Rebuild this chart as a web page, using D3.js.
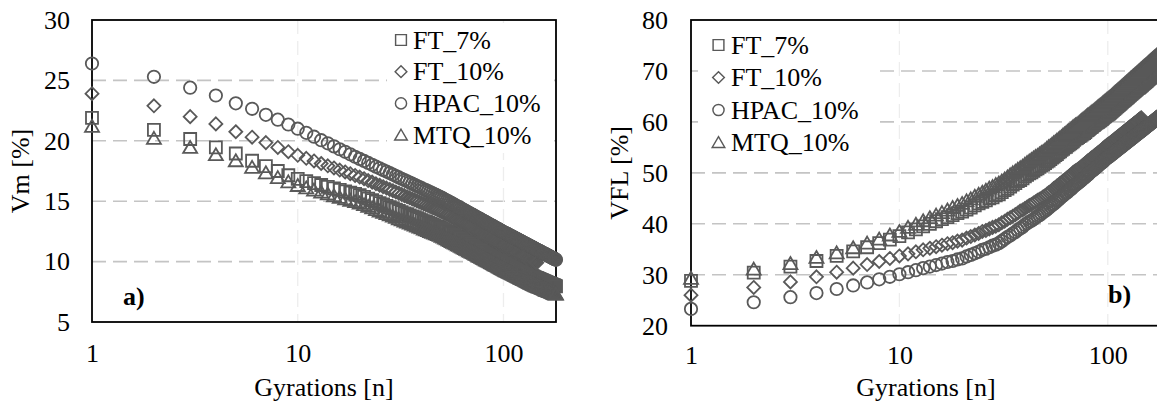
<!DOCTYPE html>
<html><head><meta charset="utf-8">
<script src="https://cdn.jsdelivr.net/npm/d3@7"></script>
<style>
body{margin:0;background:#fff}
svg{display:block}
</style>
</head><body>
<svg id="c" width="1157" height="403"></svg>
<script>
const seriesNames = ["FT_7%","FT_10%","HPAC_10%","MTQ_10%"];
const seriesSymbols = ["square","diamond","circle","triangle"];
const xTicks = [1,10,100];
const vmTicks = [5,10,15,20,25,30];
const vflTicks = [20,30,40,50,60,70,80];
const xTitle = "Gyrations [n]";

// Vm [%] per gyration (index 0 = gyration 1)
const vmFT7 = [21.9,20.9,20.15,19.45,18.95,18.35,17.9,17.5,17.15,16.85,
16.67,16.5,16.34,16.19,16.06,15.93,15.82,15.71,15.6,15.5,
15.36,15.22,15.09,14.96,14.84,14.73,14.62,14.51,14.41,14.31,
14.19,14.1,14.0,13.92,13.83,13.75,13.67,13.59,13.51,13.44,
13.34,13.28,13.21,13.14,13.07,13.01,12.94,12.88,12.82,12.75,
12.68,12.6,12.53,12.46,12.39,12.31,12.25,12.18,12.11,12.04,
11.99,11.92,11.86,11.79,11.73,11.66,11.62,11.55,11.5,11.44,
11.39,11.33,11.28,11.22,11.17,11.11,11.07,11.01,10.96,10.9,
10.86,10.8,10.76,10.71,10.67,10.62,10.57,10.52,10.48,10.43,
10.39,10.34,10.31,10.25,10.21,10.17,10.13,10.08,10.04,10.0,
9.97,9.93,9.89,9.86,9.83,9.79,9.76,9.72,9.69,9.65,
9.62,9.59,9.55,9.52,9.49,9.45,9.42,9.39,9.36,9.33,
9.29,9.27,9.24,9.21,9.17,9.15,9.12,9.09,9.05,9.03,
8.99,8.97,8.94,8.92,8.88,8.86,8.83,8.8,8.77,8.75,
8.72,8.7,8.68,8.65,8.64,8.62,8.59,8.57,8.55,8.53,
8.51,8.49,8.47,8.45,8.42,8.41,8.39,8.37,8.35,8.32,
8.3,8.28,8.26,8.24,8.23,8.21,8.19,8.17,8.16,8.14,
8.12,8.1,8.08,8.06,8.04,8.02,8.0,7.98,7.97,7.95];

const vmFT10 = [23.9,22.9,22.0,21.4,20.75,20.3,19.85,19.45,19.1,18.8,
18.55,18.33,18.12,17.93,17.75,17.58,17.42,17.28,17.13,17.0,
16.86,16.71,16.58,16.44,16.32,16.2,16.09,15.97,15.87,15.76,
15.66,15.56,15.46,15.37,15.28,15.19,15.11,15.02,14.94,14.86,
14.78,14.71,14.64,14.56,14.49,14.42,14.35,14.28,14.22,14.15,
14.07,13.99,13.92,13.85,13.77,13.7,13.63,13.56,13.48,13.42,
13.36,13.29,13.23,13.16,13.1,13.02,12.96,12.9,12.85,12.79,
12.74,12.68,12.61,12.55,12.5,12.44,12.39,12.34,12.29,12.24,
12.19,12.13,12.08,12.04,11.98,11.94,11.88,11.84,11.8,11.75,
11.7,11.65,11.61,11.56,11.51,11.48,11.42,11.39,11.34,11.3,
11.27,11.23,11.19,11.15,11.12,11.08,11.05,11.02,10.97,10.94,
10.9,10.87,10.83,10.8,10.77,10.74,10.71,10.67,10.64,10.6,
10.57,10.54,10.51,10.48,10.45,10.43,10.39,10.36,10.33,10.31,
10.27,10.25,10.22,10.19,10.17,10.14,10.12,10.08,10.06,10.03,
10.01,9.98,9.96,9.92,9.9];

const vmHPAC = [26.4,25.3,24.4,23.75,23.1,22.65,22.15,21.75,21.35,21.0,
20.66,20.34,20.05,19.79,19.54,19.3,19.09,18.88,18.68,18.5,
18.33,18.17,18.01,17.86,17.72,17.58,17.45,17.33,17.21,17.08,
16.97,16.86,16.75,16.65,16.55,16.45,16.35,16.26,16.17,16.08,
15.99,15.91,15.83,15.75,15.67,15.59,15.52,15.44,15.37,15.3,
15.21,15.14,15.06,14.99,14.91,14.84,14.76,14.69,14.62,14.55,
14.49,14.42,14.35,14.29,14.22,14.15,14.1,14.03,13.97,13.92,
13.86,13.8,13.75,13.69,13.63,13.58,13.53,13.47,13.42,13.37,
13.32,13.26,13.22,13.17,13.12,13.07,13.02,12.98,12.93,12.89,
12.84,12.79,12.75,12.71,12.66,12.62,12.57,12.54,12.49,12.45,
12.41,12.38,12.34,12.3,12.27,12.23,12.19,12.15,12.12,12.08,
12.05,12.01,11.98,11.94,11.91,11.88,11.84,11.81,11.77,11.74,
11.71,11.68,11.65,11.61,11.58,11.55,11.52,11.49,11.46,11.42,
11.39,11.37,11.34,11.31,11.28,11.25,11.22,11.19,11.16,11.13,
11.11,11.08,11.05,11.02,11.0,10.97,10.94,10.92,10.89,10.86,
10.84,10.81,10.79,10.76,10.74,10.71,10.69,10.66,10.64,10.61,
10.59,10.57,10.54,10.52,10.5,10.47,10.45,10.42,10.4,10.38,
10.36,10.33,10.31,10.29,10.27,10.24,10.22,10.2,10.18,10.15];

const vmMTQ = [21.2,20.2,19.45,18.85,18.35,17.8,17.35,16.95,16.6,16.3,
16.1,15.92,15.75,15.6,15.45,15.32,15.19,15.07,14.96,14.85,
14.71,14.57,14.44,14.31,14.19,14.08,13.97,13.86,13.76,13.66,
13.54,13.45,13.35,13.27,13.18,13.1,13.02,12.94,12.86,12.79,
12.69,12.63,12.56,12.49,12.42,12.36,12.29,12.23,12.17,12.1,
12.03,11.95,11.88,11.81,11.74,11.66,11.6,11.53,11.46,11.39,
11.34,11.27,11.21,11.14,11.08,11.01,10.97,10.9,10.85,10.79,
10.74,10.68,10.63,10.57,10.52,10.46,10.42,10.36,10.31,10.25,
10.21,10.15,10.11,10.06,10.02,9.97,9.92,9.87,9.83,9.78,
9.74,9.69,9.66,9.6,9.56,9.52,9.48,9.43,9.39,9.35,
9.32,9.28,9.24,9.21,9.18,9.14,9.11,9.07,9.04,9.0,
8.97,8.94,8.9,8.87,8.84,8.8,8.77,8.74,8.71,8.68,
8.64,8.62,8.59,8.56,8.52,8.5,8.47,8.44,8.4,8.38,
8.34,8.32,8.29,8.27,8.23,8.21,8.18,8.15,8.12,8.1,
8.07,8.05,8.03,8.0,7.99,7.97,7.94,7.92,7.9,7.88,
7.86,7.84,7.82,7.8,7.77,7.76,7.74,7.72,7.7,7.67,
7.65,7.63,7.61,7.59,7.58,7.56,7.54,7.52,7.51,7.49,
7.47,7.45,7.43,7.41,7.39,7.37,7.35,7.33,7.32,7.3];

// VFL [%] per gyration
const vflFT7 = [28.8,30.4,31.6,32.7,33.7,34.6,35.4,36.2,36.9,37.6,
38.3,38.9,39.5,40.0,40.5,40.9,41.3,41.7,42.1,42.4,
42.8,43.2,43.6,44.0,44.3,44.6,45.0,45.2,45.6,45.8,
46.2,46.6,46.9,47.3,47.7,48.0,48.4,48.6,48.9,49.3,
49.6,49.9,50.1,50.4,50.7,50.9,51.2,51.4,51.6,51.9,
52.2,52.4,52.7,53.0,53.2,53.5,53.7,54.0,54.2,54.5,
54.7,55.0,55.1,55.4,55.6,55.8,56.0,56.2,56.5,56.7,
56.8,57.0,57.2,57.3,57.5,57.7,57.8,58.0,58.3,58.4,
58.6,58.8,59.0,59.1,59.3,59.4,59.6,59.8,59.9,60.0,
60.2,60.3,60.5,60.6,60.8,61.0,61.1,61.3,61.4,61.5,
61.6,61.75,61.9,62.05,62.2,62.35,62.5,62.65,62.8,62.95,
63.09,63.23,63.37,63.51,63.65,63.78,63.92,64.06,64.2,64.34,
64.42,64.55,64.67,64.8,64.93,65.06,65.19,65.32,65.44,65.56,
65.68,65.8,65.91,66.03,66.15,66.26,66.38,66.5,66.61,66.73,
66.74,66.85,66.96,67.07,67.18,67.29,67.4,67.51,67.62,67.73,
67.83,67.93,68.03,68.13,68.23,68.34,68.44,68.54,68.64,68.75,
68.76,68.86,68.95,69.05,69.14,69.24,69.33,69.43,69.52,69.62,
69.71,69.8,69.89,69.98,70.07,70.16,70.25,70.34,70.43,70.52];

const vflFT10 = [26.0,27.5,28.6,29.6,30.5,31.3,32.0,32.6,33.2,33.7,
34.1,34.5,34.9,35.2,35.5,35.8,36.1,36.3,36.6,36.8,
37.2,37.5,37.8,38.1,38.5,38.7,39.0,39.3,39.5,39.8,
40.2,40.5,40.9,41.2,41.5,41.8,42.1,42.5,42.7,43.0,
43.3,43.6,43.8,44.1,44.3,44.6,44.8,45.0,45.3,45.5,
45.8,46.1,46.3,46.6,46.9,47.1,47.4,47.6,47.9,48.1,
48.4,48.6,48.8,49.1,49.3,49.5,49.7,50.0,50.2,50.4,
50.5,50.7,50.9,51.1,51.3,51.5,51.7,51.9,52.1,52.3,
52.4,52.6,52.8,53.0,53.1,53.3,53.5,53.6,53.8,54.0,
54.1,54.3,54.4,54.6,54.8,54.9,55.1,55.2,55.4,55.5,
55.64,55.77,55.91,56.04,56.18,56.31,56.45,56.58,56.72,56.86,
56.98,57.11,57.23,57.36,57.48,57.61,57.73,57.86,57.98,58.11,
58.22,58.34,58.45,58.57,58.68,58.8,58.91,59.03,59.14,59.25,
59.36,59.46,59.57,59.67,59.78,59.88,59.99,60.09,60.2,60.31,
60.41,60.5,60.6,60.7,60.8];

const vflHPAC = [23.3,24.6,25.6,26.4,27.2,27.9,28.5,29.1,29.6,30.1,
30.5,30.9,31.3,31.6,31.9,32.2,32.5,32.7,33.0,33.2,
33.6,33.9,34.2,34.5,34.9,35.1,35.4,35.7,35.9,36.2,
36.6,37.0,37.4,37.7,38.1,38.4,38.8,39.1,39.4,39.8,
40.1,40.4,40.6,40.9,41.2,41.5,41.7,42.0,42.3,42.5,
42.8,43.1,43.4,43.7,43.9,44.2,44.5,44.7,45.0,45.3,
45.5,45.8,46.0,46.2,46.5,46.7,46.9,47.2,47.4,47.6,
47.8,48.0,48.2,48.4,48.6,48.9,49.0,49.2,49.5,49.6,
49.8,50.0,50.2,50.4,50.5,50.7,50.9,51.1,51.2,51.4,
51.6,51.8,51.9,52.1,52.2,52.4,52.6,52.7,52.9,53.0,
53.13,53.27,53.4,53.54,53.67,53.81,53.94,54.08,54.21,54.35,
54.47,54.59,54.72,54.84,54.96,55.08,55.2,55.33,55.45,55.57,
55.68,55.8,55.91,56.02,56.14,56.25,56.36,56.47,56.59,56.7,
56.8,56.91,57.01,57.12,57.22,57.32,57.43,57.53,57.64,57.75,
57.85,57.94,58.04,58.14,58.24,58.33,58.43,58.53,58.63,58.72,
58.81,58.9,58.99,59.09,59.18,59.27,59.36,59.45,59.54,59.63,
59.72,59.8,59.89,59.97,60.06,60.14,60.23,60.31,60.4,60.49,
60.57,60.65,60.73,60.81,60.89,60.97,61.06,61.14,61.22,61.3];

const vflMTQ = [29.3,31.1,32.2,33.4,34.3,35.3,36.2,37.0,37.8,38.5,
39.3,39.9,40.6,41.2,41.7,42.2,42.7,43.2,43.6,44.0,
44.5,44.9,45.4,45.8,46.2,46.6,47.0,47.3,47.7,48.0,
48.4,48.8,49.2,49.6,50.0,50.3,50.7,51.0,51.3,51.7,
52.0,52.3,52.6,52.9,53.2,53.4,53.7,54.0,54.2,54.5,
54.8,55.1,55.3,55.6,55.9,56.1,56.4,56.6,56.9,57.1,
57.4,57.6,57.8,58.1,58.3,58.5,58.7,59.0,59.2,59.4,
59.5,59.7,59.9,60.1,60.3,60.5,60.7,60.9,61.1,61.3,
61.4,61.6,61.8,62.0,62.1,62.3,62.5,62.6,62.8,63.0,
63.1,63.3,63.4,63.6,63.8,63.9,64.1,64.2,64.4,64.5,
64.65,64.8,64.95,65.1,65.25,65.4,65.55,65.7,65.85,66.0,
66.14,66.28,66.42,66.56,66.7,66.83,66.97,67.11,67.25,67.39,
67.52,67.65,67.77,67.9,68.03,68.16,68.29,68.42,68.54,68.66,
68.78,68.9,69.01,69.13,69.25,69.36,69.48,69.6,69.71,69.83,
69.94,70.05,70.16,70.27,70.38,70.49,70.6,70.71,70.82,70.93,
71.03,71.13,71.23,71.33,71.43,71.54,71.64,71.74,71.84,71.95,
72.04,72.14,72.23,72.33,72.42,72.52,72.61,72.71,72.8,72.9,
72.99,73.08,73.17,73.26,73.35,73.44,73.53,73.62,73.71,73.8];

const FONT = '"Liberation Serif","Times New Roman",serif';
const FS = 26;
const MARK = "#595959";
const svg = d3.select("#c");

function symbolPath(type){
  if(type==="square") return "M-6,-6H6V6H-6Z";
  if(type==="diamond") return "M0,-6.5L6.5,0L0,6.5L-6.5,0Z";
  if(type==="circle") return d3.symbol(d3.symbolCircle, Math.PI*6.2*6.2)();
  return "M0,-6.5L7,5.5L-7,5.5Z";
}

function drawPanel(o){
  const x = d3.scaleLog().domain([1,180]).range([o.left,o.right]);
  const y = d3.scaleLinear().domain(o.yDomain).range([o.bottom,o.top]);
  const g = svg.append("g");

  g.append("g").selectAll("line").data(o.yTicks.filter(t=>t>o.yDomain[0]&&t<o.yDomain[1])).join("line")
    .attr("x1",o.left).attr("x2",o.right).attr("y1",d=>y(d)).attr("y2",d=>y(d))
    .attr("stroke","#c4c4c4").attr("stroke-width",1.6).attr("stroke-dasharray","14,7");
  g.append("g").selectAll("line").data([10,100]).join("line")
    .attr("x1",d=>x(d)).attr("x2",d=>x(d)).attr("y1",o.top).attr("y2",o.bottom)
    .attr("stroke","#ededed").attr("stroke-width",1.3).attr("stroke-dasharray","14,7");

  g.append("rect").attr("x",o.left).attr("y",o.top)
    .attr("width",o.right-o.left).attr("height",o.bottom-o.top)
    .attr("fill","none").attr("stroke","#000").attr("stroke-width",1.8);

  o.data.forEach((arr,si)=>{
    g.append("g").selectAll("path").data(arr).join("path")
      .attr("d",symbolPath(seriesSymbols[si]))
      .attr("transform",(v,i)=>`translate(${x(i+1)},${y(v)})`)
      .attr("fill","none").attr("stroke",MARK).attr("stroke-width",1.8);
  });

  const xa = g.append("g").attr("transform",`translate(0,${o.bottom})`)
    .call(d3.axisBottom(x).tickValues(xTicks).tickFormat(d3.format("d")).tickSize(0));
  xa.select(".domain").remove();
  xa.attr("font-family",FONT).attr("font-size",FS);
  xa.selectAll("text").attr("y",o.xLabelY-o.bottom).attr("dy",0).attr("fill","#000");

  const ya = g.append("g").attr("transform",`translate(${o.left},0)`)
    .call(d3.axisLeft(y).tickValues(o.yTicks).tickSize(0).tickPadding(o.yPad));
  ya.select(".domain").remove();
  ya.attr("font-family",FONT).attr("font-size",FS);
  ya.selectAll("text").attr("fill","#000");

  g.append("text").attr("x",(o.left+o.right)/2).attr("y",396)
    .attr("text-anchor","middle").attr("font-family",FONT).attr("font-size",FS).text(xTitle);
  g.append("text").attr("transform",`translate(${o.yTitleX},${(o.top+o.bottom)/2}) rotate(-90)`)
    .attr("text-anchor","middle").attr("font-family",FONT).attr("font-size",FS).text(o.yTitle);

  g.append("text").attr("x",o.tag.x).attr("y",o.tag.y).attr("font-family",FONT)
    .attr("font-size",FS).attr("font-weight","bold").text(o.tag.t);

  const L = o.legend;
  const lg = g.append("g");
  lg.append("rect").attr("x",L.bx).attr("y",L.by).attr("width",L.bw).attr("height",L.bh).attr("fill","#fff");
  seriesNames.forEach((nm,i)=>{
    const by = L.y0 + i*L.dy;
    lg.append("path").attr("d",symbolPath(seriesSymbols[i]))
      .attr("transform",`translate(${L.mx},${by-8.5}) scale(0.9)`)
      .attr("fill","none").attr("stroke",MARK).attr("stroke-width",1.6);
    lg.append("text").attr("x",L.tx).attr("y",by).attr("font-family",FONT).attr("font-size",FS).text(nm);
  });
}

drawPanel({left:92,right:556,top:20,bottom:322,yDomain:[5,30],yTicks:vmTicks,
  data:[vmFT7,vmFT10,vmHPAC,vmMTQ],yTitle:"Vm [%]",yTitleX:29,yPad:22,xLabelY:362,
  tag:{x:123,y:305,t:"a)"},
  legend:{bx:387,by:23,bw:166,bh:130,mx:401,tx:413,y0:48.5,dy:31.7}});

drawPanel({left:691,right:1161,top:20,bottom:325.7,yDomain:[20,80],yTicks:vflTicks,
  data:[vflFT7,vflFT10,vflHPAC,vflMTQ],yTitle:"VFL [%]",yTitleX:628,yPad:23,xLabelY:364,
  tag:{x:1108,y:303,t:"b)"},
  legend:{bx:698,by:24,bw:177,bh:137,mx:718.5,tx:731,y0:53.5,dy:32.5}});
</script>
</body></html>
